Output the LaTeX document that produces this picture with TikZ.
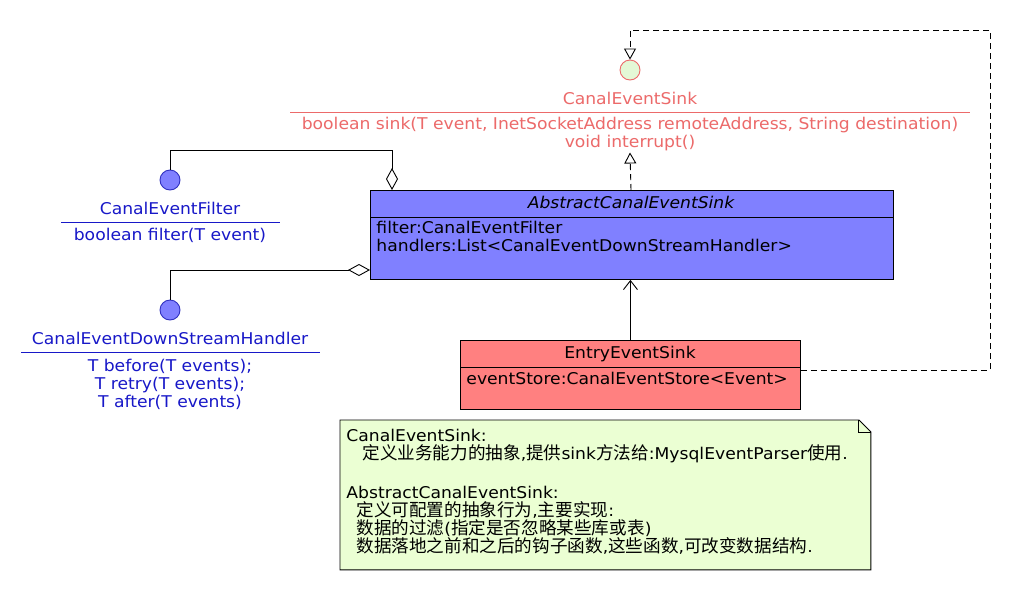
\documentclass[tikz,border=0pt]{standalone}
\usepackage{fontspec}
\setmainfont{DejaVu Sans}[FakeStretch=1.06]
\newfontfamily\cjk{Noto Sans CJK SC}
\newcommand\zh[1]{{\cjk\fontsize{17.6}{18}\selectfont #1}}
\usetikzlibrary{arrows.meta}
\definecolor{ifblue}{HTML}{8080FF}
\definecolor{ifedge}{HTML}{3030C0}
\definecolor{txtblue}{HTML}{1818C8}
\definecolor{salmon}{HTML}{EC6A6A}
\definecolor{boxred}{HTML}{FF8080}
\definecolor{notegreen}{HTML}{EBFFD3}
\definecolor{circgreen}{HTML}{E4F8D6}
\begin{document}
\fontsize{16.2}{18}\selectfont
\begin{tikzpicture}[x=1pt,y=-1pt,line width=0.9pt,
  txt/.style={inner sep=0pt, text height=0.72em, text depth=0.22em},
  ltxt/.style={txt, anchor=west},
  iface/.style={circle, minimum size=20pt, inner sep=0pt},
  classbox/.style={draw, anchor=north west, inner sep=0pt},
  dsh/.style={dash pattern=on 6pt off 4pt},
  realize/.style={dsh, -{Triangle[open, length=11pt, width=12pt]}},
  aggr/.style={-{Diamond[open, length=22pt, width=12pt]}},
  assoc/.style={-{Straight Barb[length=9pt, width=14pt]}}]
\useasboundingbox (0,0) rectangle (1030,590);
\fill[white] (0,0) rectangle (1030,590);

% ---- CanalEventSink interface
\node[iface, draw=salmon, fill=circgreen] (sinkc) at (630,70) {};
\node[txt, text=salmon] (sinkname) at (630,100) {CanalEventSink};
\coordinate (sinkL) at (290,112);
\coordinate (sinkR) at (970,112);
\draw[salmon] (sinkL) -- (sinkR);
\node[txt, text=salmon] (sinkm1) at (630,125) {boolean sink(T event, InetSocketAddress remoteAddress, String destination)};
\node[txt, text=salmon] (sinkm2) at (630,143) {void interrupt()};
\coordinate (sinkbot) at (630,152.5);

% ---- AbstractCanalEventSink
\node[classbox, fill=ifblue, minimum width=523pt, minimum height=89pt] (abs) at (370,190) {};
\draw ([yshift=-27pt]abs.north west) -- ([yshift=-27pt]abs.north east);
\node[txt, font=\itshape] (absname) at (631,204) {AbstractCanalEventSink};
\node[ltxt] (absa1) at (376,229) {filter:CanalEventFilter};
\node[ltxt] (absa2) at (376,247) {handlers:List<CanalEventDownStreamHandler>};

% ---- EntryEventSink
\node[classbox, fill=boxred, minimum width=340pt, minimum height=69pt] (entry) at (460,340) {};
\draw ([yshift=-27pt]entry.north west) -- ([yshift=-27pt]entry.north east);
\node[txt] (entryname) at (630,354) {EntryEventSink};
\node[ltxt] (entrya1) at (466,380) {eventStore:CanalEventStore<Event>};

% ---- CanalEventFilter
\node[iface, draw=ifedge, fill=ifblue] (filtc) at (170,180) {};
\node[txt, text=txtblue] (filtname) at (170,210) {CanalEventFilter};
\coordinate (filtL) at (61,222);
\coordinate (filtR) at (280,222);
\draw[txtblue] (filtL) -- (filtR);
\node[txt, text=txtblue] (filtm) at (170,236) {boolean filter(T event)};

% ---- CanalEventDownStreamHandler
\node[iface, draw=ifedge, fill=ifblue] (handc) at (170,310) {};
\node[txt, text=txtblue] (handname) at (170,340) {CanalEventDownStreamHandler};
\coordinate (handL) at (21,352);
\coordinate (handR) at (320,352);
\draw[txtblue] (handL) -- (handR);
\node[txt, text=txtblue] (handm1) at (170,367) {T before(T events);};
\node[txt, text=txtblue] (handm2) at (170,385) {T retry(T events);};
\node[txt, text=txtblue] (handm3) at (170,403) {T after(T events)};

% ---- connectors
\draw[realize] (absname |- abs.north) -- (sinkbot);
\draw[assoc] (entry.north) -- (entry.north |- abs.south);
\coordinate (dr1) at (990,370);
\coordinate (dr2) at (990,30);
\coordinate (dr3) at (630,30);
\draw[realize] (entry.east |- dr1) -- (dr1) -- (dr2) -- (dr3) -- (sinkc.north);
\coordinate (fa) at (392,150);
\draw[aggr] (filtc.north) |- (fa) -- ([xshift=22pt]abs.north west);
\coordinate (ha) at (170,270);
\draw[aggr] (handc.north) -- (ha) -- (abs.west |- ha);

% ---- note
\node[inner sep=0pt, minimum width=530pt, minimum height=149pt, anchor=north west] (note) at (340,420) {};
\fill[notegreen, draw=black] (note.north west) -- ([xshift=-12pt]note.north east) -- ([yshift=-12pt]note.north east) -- (note.south east) -- (note.south west) -- cycle;
\draw ([xshift=-12pt]note.north east) -- ([xshift=-12pt,yshift=-12pt]note.north east) -- ([yshift=-12pt]note.north east);
\node[ltxt] (n1) at (346,437) {CanalEventSink:};
\node[ltxt] (n2) at (362,455) {\zh{定义业务能力的抽象},\zh{提供}sink\zh{方法给}:MysqlEventParser\zh{使用}.};
\node[ltxt] (n3) at (346,494) {AbstractCanalEventSink:};
\node[ltxt] (n4) at (356,512) {\zh{定义可配置的抽象行为},\zh{主要实现}:};
\node[ltxt] (n5) at (356,530) {\zh{数据的过滤}(\zh{指定是否忽略某些库或表})};
\node[ltxt] (n6) at (356,548) {\zh{数据落地之前和之后的钩子函数},\zh{这些函数},\zh{可改变数据结构}.};
\end{tikzpicture}
\end{document}
